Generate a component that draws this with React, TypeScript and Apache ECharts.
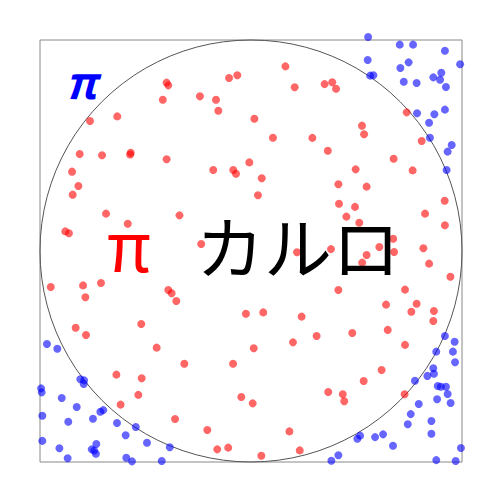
import React, { useEffect, useRef } from "react";
import * as echarts from "echarts";

// Points inside the unit circle (x, y in [-1, 1])
const insidePoints: number[][] = [
  [-0.4, 0.798], [-0.392, 0.785], [-0.418, 0.717], [-0.634, 0.638], [-0.763, 0.616],
  [-0.812, 0.46], [-0.706, 0.454], [-0.57, 0.466], [-0.573, 0.457], [-0.4, 0.435],
  [-0.848, 0.376], [0.163, 0.875], [-0.065, 0.833], [-0.104, 0.82], [0.207, 0.776],
  [-0.242, 0.733], [-0.166, 0.717], [-0.155, 0.665], [0.016, 0.627], [0.104, 0.537],
  [0.291, 0.536], [-0.008, 0.42], [-0.179, 0.384], [-0.084, 0.384], [-0.071, 0.366],
  [0.051, 0.345], [0.349, 0.791], [0.385, 0.8], [0.403, 0.769], [0.738, 0.657],
  [0.526, 0.594], [0.536, 0.553], [0.809, 0.521], [0.364, 0.475], [0.676, 0.437],
  [0.496, 0.387], [0.766, 0.382], [-0.818, 0.308], [-0.845, 0.267], [-0.687, 0.177],
  [-0.339, 0.169], [-0.584, 0.129], [-0.88, 0.093], [-0.863, 0.084], [-0.949, -0.171],
  [-0.796, -0.163], [-0.785, -0.219], [-0.711, -0.152], [-0.392, -0.185], [-0.376, -0.2],
  [-0.354, -0.237], [0.033, 0.264], [-0.236, 0.033], [0.218, -0.006], [-0.024, -0.297],
  [0.058, -0.291], [0.24, -0.311], [0.414, 0.316], [0.548, 0.305], [0.417, 0.224],
  [0.493, 0.209], [0.452, 0.163], [0.513, 0.134], [0.918, 0.238], [0.825, 0.177],
  [0.919, 0.122], [0.674, 0.058], [0.608, 0.019], [0.678, -0.005], [0.548, -0.019],
  [0.527, -0.055], [0.379, 0.009], [0.817, 0.013], [0.844, -0.06], [0.945, -0.122],
  [0.414, -0.185], [0.73, -0.183], [0.64, -0.254], [0.785, -0.25], [0.76, -0.288],
  [0.867, -0.284], [0.864, -0.332], [-0.831, -0.364], [-0.782, -0.398], [-0.52, -0.346],
  [-0.447, -0.458], [-0.638, -0.586], [-0.518, -0.603], [-0.534, -0.682], [-0.618, -0.728],
  [-0.36, -0.796], [0.311, -0.403], [0.199, -0.433], [0.013, -0.461], [-0.316, -0.534],
  [-0.085, -0.534], [-0.046, -0.692], [0.008, -0.722], [-0.207, -0.848], [0.182, -0.855],
  [-0.16, -0.94], [-0.108, -0.932], [0.049, -0.97], [0.231, -0.945], [0.48, -0.389],
  [0.648, -0.374], [0.73, -0.445], [0.619, -0.564], [0.534, -0.616], [0.366, -0.668],
  [0.435, -0.679], [0.442, -0.712], [0.728, -0.679],
];

// Points outside the unit circle
const outsidePoints: number[][] = [
  [0.555, 1.014], [0.705, 0.978], [0.768, 0.978], [0.919, 0.949], [0.553, 0.905],
  [0.747, 0.894], [0.708, 0.867], [0.991, 0.885], [0.565, 0.831], [0.58, 0.833],
  [0.902, 0.845], [0.864, 0.823], [0.896, 0.812], [0.724, 0.802], [0.785, 0.796],
  [0.924, 0.777], [0.919, 0.67], [0.787, 0.653], [0.869, 0.648], [0.844, 0.608],
  [0.848, 0.537], [0.951, 0.502], [0.932, 0.471], [0.927, 0.384], [-0.967, -0.441],
  [-0.918, -0.463], [-0.809, -0.608], [-0.791, -0.613], [-0.793, -0.63], [-0.995, -0.651],
  [-0.992, -0.67], [-0.897, -0.697], [-0.826, -0.739], [-0.989, -0.781], [-0.866, -0.809],
  [-0.749, -0.795], [-0.714, -0.762], [-0.7, -0.754], [-0.635, -0.815], [-0.546, -0.834],
  [-0.594, -0.873], [-0.989, -0.9], [-0.908, -0.935], [-0.733, -0.915], [-0.755, -0.94],
  [-0.743, -0.946], [-0.735, -0.961], [-0.493, -0.909], [-0.385, -0.93], [-0.869, -0.982],
  [-0.591, -0.98], [-0.564, -0.997], [-0.423, -0.995], [0.919, -0.403], [0.965, -0.43],
  [0.878, -0.477], [0.957, -0.477], [0.967, -0.527], [0.864, -0.556], [0.867, -0.582],
  [0.836, -0.592], [0.777, -0.615], [0.885, -0.64], [0.9, -0.643], [0.924, -0.643],
  [0.932, -0.678], [0.882, -0.703], [0.946, -0.72], [0.795, -0.725], [0.757, -0.773],
  [0.743, -0.821], [0.855, -0.806], [0.855, -0.866], [0.517, -0.875], [0.504, -0.89],
  [0.588, -0.882], [0.626, -0.869], [0.673, -0.923], [0.995, -0.934], [0.414, -0.968],
  [0.381, -0.994], [0.878, -0.991], [0.97, -0.995],
];

// Circle: center x, center y, radius
const circle: number[][] = [[0, 0, 1]];

const titleMain = "カルロ";
const titlePi = "π";

export default function App() {
  const ref = useRef<HTMLDivElement>(null);
  useEffect(() => {
    document.body.style.margin = "0";
    if (!ref.current) return;
    const chart = echarts.init(ref.current, undefined, { renderer: "svg" });
    chart.setOption({
      animation: false,
      backgroundColor: "#ffffff",
      grid: {
        left: 40,
        top: 40,
        width: 422,
        height: 422,
        show: true,
        borderColor: "#888888",
        borderWidth: 1,
        backgroundColor: "transparent",
      },
      xAxis: {
        type: "value",
        min: -1,
        max: 1,
        show: false,
      },
      yAxis: {
        type: "value",
        min: -1,
        max: 1,
        show: false,
      },
      series: [
        {
          type: "custom",
          silent: true,
          clip: false,
          data: circle,
          encode: { x: 0, y: 1 },
          renderItem: (params: any, api: any) => {
            const c = api.coord([api.value(0), api.value(1)]);
            const r = api.size([api.value(2), 0])[0];
            return {
              type: "circle",
              shape: { cx: c[0], cy: c[1], r },
              style: { fill: "none", stroke: "#555555", lineWidth: 1 },
            };
          },
        },
        {
          type: "scatter",
          data: insidePoints,
          symbolSize: 8,
          clip: false,
          itemStyle: { color: "rgba(255,0,0,0.75)" },
        },
        {
          type: "scatter",
          data: outsidePoints,
          symbolSize: 8,
          clip: false,
          itemStyle: { color: "rgba(0,0,255,0.75)" },
        },
      ],
      graphic: [
        {
          type: "text",
          x: 81,
          y: 80,
          z: 100,
          style: {
            text: titlePi,
            fill: "#0000ff",
            font: "italic bold 44px 'Noto Sans CJK JP', sans-serif",
            align: "center",
            verticalAlign: "middle",
          },
        },
        {
          type: "text",
          x: 129,
          y: 242,
          z: 100,
          style: {
            text: titlePi,
            fill: "#ff0000",
            font: "68px 'Noto Sans CJK JP', sans-serif",
            align: "center",
            verticalAlign: "middle",
          },
        },
        {
          type: "text",
          x: 298,
          y: 244,
          z: 100,
          style: {
            text: titleMain,
            fill: "#000000",
            font: "68px 'Noto Sans CJK JP', sans-serif",
            align: "center",
            verticalAlign: "middle",
          },
        },
      ],
    });
    return () => chart.dispose();
  }, []);
  return <div ref={ref} style={{ width: 500, height: 500 }} />;
}
